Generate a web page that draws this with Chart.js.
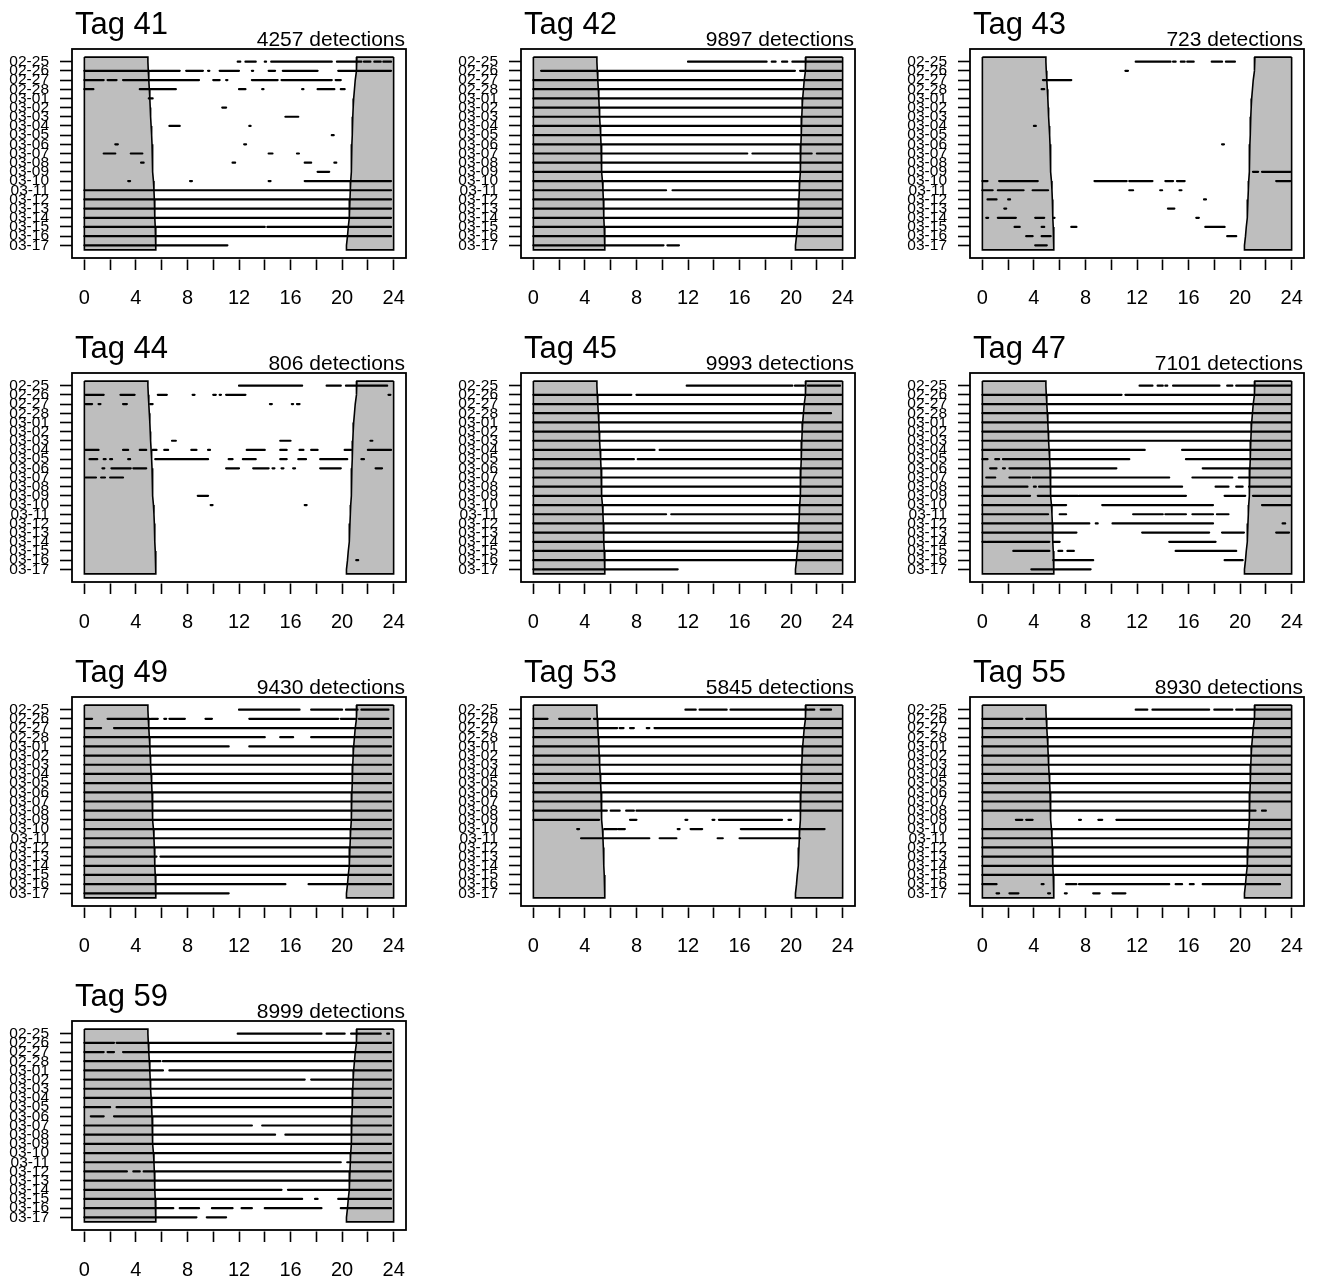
<!DOCTYPE html>
<html>
<head>
<meta charset="utf-8">
<title>Tag detections by hour of day</title>
<script src="https://cdn.jsdelivr.net/npm/chart.js@4.4.1/dist/chart.umd.min.js"></script>
<style>
  html, body { margin: 0; padding: 0; background: #ffffff; }
  #grid { position: relative; width: 1324px; height: 1284px; }
  .panel { position: absolute; width: 449px; height: 324px; }
  .panel canvas { display: block; }
</style>
</head>
<body>
<div id="grid"></div>
<script>
// Days on the vertical axis (top to bottom) and hour ticks on the horizontal axis
const dayLabels = ['02-25','02-26','02-27','02-28','03-01','03-02','03-03','03-04','03-05','03-06',
                   '03-07','03-08','03-09','03-10','03-11','03-12','03-13','03-14','03-15','03-16','03-17'];
const hourTicks = [0, 2, 4, 6, 8, 10, 12, 14, 16, 18, 20, 22, 24];

// Panels
const tagIds = [41, 42, 43, 44, 45, 47, 49, 53, 55, 59];
const detectionCounts = [4257, 9897, 723, 806, 9993, 7101, 9430, 5845, 8930, 8999];

// Sunrise / sunset hour for each day (night shading edges)
const sunrise = [4.93, 4.96, 5.00, 5.04, 5.08, 5.11, 5.14, 5.18, 5.22, 5.25, 5.27,
                 5.30, 5.32, 5.36, 5.40, 5.43, 5.45, 5.48, 5.50, 5.53, 5.55];
const sunset  = [21.15, 21.08, 21.02, 20.96, 20.90, 20.86, 20.83, 20.80, 20.78, 20.76, 20.74,
                 20.72, 20.70, 20.67, 20.64, 20.61, 20.58, 20.54, 20.48, 20.42, 20.34];

// Detection runs per day: [start hour, end hour]
const tag41 = [
  [[11.9,12.1],[12.5,13.3],[14.0,14.1],[14.5,19.2],[19.6,21.5],[21.7,22.2],[22.5,23.0],[23.2,23.8]],
  [[0,5.1],[5.2,7.4],[7.9,9.2],[9.6,9.7],[10.5,12.0],[13.0,13.1],[14.3,14.8],[15.4,18.1],[19.7,23.8]],
  [[0,1.5],[1.8,2.5],[3.0,8.9],[10.0,10.5],[11.0,11.1],[13.0,15.0],[15.3,19.2],[19.5,19.9]],
  [[0,0.7],[4.3,7.1],[12.0,12.5],[13.8,13.9],[16.9,17.0],[18.1,19.4],[19.9,20.2]],
  [[5.0,5.3]],
  [[10.7,11.0]],
  [[15.6,16.6]],
  [[6.6,7.4],[12.8,12.9]],
  [[19.2,19.35]],
  [[2.4,2.6],[12.4,12.55]],
  [[1.5,2.4],[3.6,4.5],[14.3,14.6],[16.5,16.65]],
  [[4.4,4.6],[11.5,11.7],[17.1,17.6],[19.4,19.55]],
  [[18.1,19.0]],
  [[3.4,3.55],[8.2,8.35],[14.3,14.45],[17.1,23.8]],
  [[0,23.8]],
  [[0,23.8]],
  [[0,23.8]],
  [[0,23.8]],
  [[0,14.0],[14.2,23.8]],
  [[0,23.8]],
  [[0,11.1]]
];
const tag42 = [
  [[12.0,18.1],[18.5,18.8],[19.3,19.7],[20.1,23.9]],
  [[0.6,20.3],[20.7,23.9]],
  [[0,23.9]],
  [[0,23.9]],
  [[0,23.9]],
  [[0,23.9]],
  [[0,23.9]],
  [[0,23.9]],
  [[0,23.9]],
  [[0,23.9]],
  [[0,16.6],[17.0,21.6],[22.0,23.9]],
  [[0,23.9]],
  [[0,23.9]],
  [[0,23.9]],
  [[0,10.3],[10.8,23.9]],
  [[0,23.9]],
  [[0,23.9]],
  [[0,23.9]],
  [[0,23.9]],
  [[0,23.9]],
  [[0,10.1],[10.4,11.3]]
];
const tag43 = [
  [[11.9,14.6],[14.8,15.0],[15.4,15.7],[15.9,16.4],[17.8,18.6],[18.9,19.6]],
  [[11.1,11.3]],
  [[4.7,6.9]],
  [[4.6,4.8]],
  [],
  [],
  [],
  [[4.0,4.15]],
  [],
  [[18.6,18.75]],
  [],
  [],
  [[21.0,21.4],[21.7,23.9]],
  [[0,0.4],[1.3,4.3],[8.7,11.2],[11.4,13.2],[14.2,14.8],[15.1,15.7],[22.8,23.9]],
  [[0,0.8],[1.2,3.2],[3.9,5.1],[11.4,11.7],[13.8,13.95],[15.3,15.45]],
  [[0.4,1.1],[2.0,2.15],[17.2,17.35]],
  [[1.7,1.85],[14.4,14.9]],
  [[0.3,0.45],[1.2,2.6],[4.1,4.8],[5.5,5.6],[16.6,16.8]],
  [[2.5,2.9],[4.6,4.8],[6.9,7.3],[17.3,18.8]],
  [[3.4,3.9],[4.6,5.3],[19.0,19.7]],
  [[4.1,5.0]]
];
const tag44 = [
  [[12.0,16.9],[18.8,19.9],[20.3,23.5]],
  [[0.1,1.5],[2.8,3.9],[5.7,6.4],[8.4,8.55],[10.0,10.2],[10.5,10.6],[11.0,12.5],[23.6,23.75]],
  [[0.1,0.6],[1.1,1.25],[3.0,3.3],[5.1,5.3],[14.4,14.55],[16.1,16.2],[16.5,16.7]],
  [],
  [],
  [],
  [[6.8,7.1],[15.2,16.0],[22.2,22.35]],
  [[0.1,1.1],[3.0,3.4],[4.3,4.8],[5.3,5.6],[6.2,6.5],[8.3,8.7],[9.6,9.75],[12.6,14.0],[15.2,15.7],[16.7,17.0],[17.6,18.1],[20.2,20.7],[22.0,23.8]],
  [[0.4,1.0],[1.5,1.65],[2.0,2.15],[3.4,3.55],[5.5,9.6],[11.2,11.5],[12.3,13.3],[15.2,15.7],[16.6,17.2],[18.3,20.4],[21.5,21.7]],
  [[1.4,1.55],[2.1,3.6],[3.8,4.8],[11.0,12.0],[13.1,14.3],[14.6,14.75],[15.3,15.45],[16.2,16.35],[18.3,19.9],[22.6,23.1]],
  [[0.1,0.9],[1.3,1.6],[2.0,3.0]],
  [],
  [[8.8,9.6]],
  [[9.8,9.95],[17.1,17.25]],
  [],
  [],
  [],
  [],
  [],
  [[21.1,21.25]],
  []
];
const tag45 = [
  [[11.9,20.1],[20.3,21.0],[21.3,23.8]],
  [[0,7.6],[8.0,23.9]],
  [[0,23.9]],
  [[0,23.1]],
  [[0,23.9]],
  [[0,23.9]],
  [[0,23.9]],
  [[0,9.4],[9.8,23.9]],
  [[0,7.8],[8.1,23.9]],
  [[0,23.9]],
  [[0,23.9]],
  [[0,23.9]],
  [[0,23.9]],
  [[0,23.9]],
  [[0,10.3],[10.7,23.9]],
  [[0,23.9]],
  [[0,23.9]],
  [[0,23.9]],
  [[0,23.9]],
  [[0,23.9]],
  [[0,11.2]]
];
const tag47 = [
  [[12.2,13.2],[13.6,14.0],[14.2,14.35],[14.8,18.4],[19.0,19.4],[19.7,23.9]],
  [[0,10.8],[11.1,23.9]],
  [[0,23.9]],
  [[0,23.9]],
  [[0,23.9]],
  [[0,23.9]],
  [[0,23.9]],
  [[0,12.6],[15.5,23.9]],
  [[0,0.4],[1.0,1.3],[1.6,11.4],[15.8,23.9]],
  [[0.6,1.1],[1.6,1.75],[2.1,10.4],[17.1,23.9]],
  [[0.3,1.0],[2.1,3.7],[3.9,14.5],[16.3,19.4],[19.9,23.9]],
  [[0,3.5],[4.0,4.15],[4.4,15.5],[18.1,19.1],[19.7,20.2],[20.7,23.9]],
  [[0,3.7],[4.3,7.4],[7.5,15.8],[18.8,20.4],[21.0,23.9]],
  [[0,6.5],[9.3,17.9],[21.7,23.9]],
  [[0,5.1],[6.0,6.5],[11.7,14.0],[14.2,15.8],[16.3,17.9],[18.2,19.1]],
  [[0,8.3],[8.8,8.95],[10.1,17.9],[23.3,23.5]],
  [[0,7.3],[12.4,17.6],[18.6,20.3],[22.8,23.8]],
  [[0,0.3],[0.4,5.2],[5.5,6.0],[14.5,18.1]],
  [[2.4,5.2],[5.9,6.2],[6.6,7.1],[15.0,19.7]],
  [[5.5,8.6],[18.8,20.2]],
  [[3.8,5.6],[5.7,8.4]]
];
const tag49 = [
  [[12.0,16.7],[17.6,20.0],[20.3,21.2],[21.5,23.6]],
  [[0.1,0.6],[1.8,5.1],[5.2,5.7],[6.2,6.35],[6.6,7.8],[9.4,9.9],[12.8,19.7],[19.9,21.1],[21.3,23.6]],
  [[0.1,1.3],[2.3,23.8]],
  [[0,14.0],[15.2,16.2],[17.6,23.8]],
  [[0,11.2],[12.8,23.8]],
  [[0,23.8]],
  [[0,23.8]],
  [[0,23.8]],
  [[0,23.8]],
  [[0,23.8]],
  [[0,23.8]],
  [[0,23.8]],
  [[0,23.8]],
  [[0,23.8]],
  [[0,23.8]],
  [[0,23.8]],
  [[0,5.6],[5.9,23.8]],
  [[0,23.8]],
  [[0,23.8]],
  [[0,15.6],[17.4,23.8]],
  [[0,11.2]]
];
const tag53 = [
  [[11.8,12.6],[12.9,15.0],[15.3,21.3],[21.4,21.8],[22.3,23.1]],
  [[0,1.1],[2.0,4.4],[4.7,23.9]],
  [[0,6.5],[6.7,7.0],[7.5,7.8],[8.8,9.0],[9.4,23.9]],
  [[0,23.9]],
  [[0,23.9]],
  [[0,23.9]],
  [[0,23.9]],
  [[0,23.9]],
  [[0,23.9]],
  [[0,23.9]],
  [[0,23.9]],
  [[0,5.7],[6.0,6.7],[7.2,7.8],[8.0,20.7],[20.8,23.9]],
  [[0,5.1],[7.5,8.0],[11.8,11.95],[13.9,14.05],[14.4,19.3],[19.8,20.0]],
  [[3.4,3.55],[5.5,6.5],[6.6,7.1],[11.2,11.35],[12.2,13.1],[16.1,22.6]],
  [[3.7,9.0],[9.8,11.1],[14.3,14.7],[16.0,20.7]],
  [],
  [],
  [],
  [],
  [],
  []
];
const tag55 = [
  [[11.9,12.8],[13.2,17.6],[18.0,19.4],[19.7,23.9]],
  [[0,3.1],[3.4,23.9]],
  [[0,23.9]],
  [[0,23.9]],
  [[0,23.9]],
  [[0,23.9]],
  [[0,23.9]],
  [[0,23.9]],
  [[0,23.9]],
  [[0,23.9]],
  [[0,23.9]],
  [[0,21.2],[21.7,22.0]],
  [[2.6,3.1],[3.4,3.9],[7.5,7.65],[9.0,9.3],[10.4,23.9]],
  [[0,23.9]],
  [[0,23.9]],
  [[0,23.9]],
  [[0,23.9]],
  [[0,23.9]],
  [[0,23.9]],
  [[0,1.1],[4.6,4.75],[6.5,7.3],[7.5,14.5],[15.0,15.5],[16.1,16.4],[17.1,23.1]],
  [[1.1,1.3],[2.1,2.8],[5.1,5.25],[6.4,6.55],[8.6,9.1],[10.1,11.1]]
];
const tag59 = [
  [[11.9,18.4],[18.8,20.2],[20.7,23.0],[23.5,23.65]],
  [[0,2.3],[2.5,23.8]],
  [[0,1.5],[1.8,2.3],[3.0,23.8]],
  [[0,5.9],[6.1,23.8]],
  [[0,6.1],[6.6,23.8]],
  [[0,17.1],[17.6,23.8]],
  [[0,23.8]],
  [[0,23.8]],
  [[0,2.0],[2.5,23.8]],
  [[0.5,1.5],[2.3,23.8]],
  [[0,13.0],[13.8,23.8]],
  [[0,14.8],[15.6,23.8]],
  [[0,23.8]],
  [[0,23.8]],
  [[0,19.9],[20.4,23.8]],
  [[0,3.3],[3.8,4.3],[4.6,23.8]],
  [[0,23.8]],
  [[0,15.3],[15.8,23.8]],
  [[0,16.9],[17.9,18.1],[19.7,23.8]],
  [[0,6.9],[7.4,8.9],[9.9,11.5],[12.2,13.0],[14.0,18.4],[19.9,23.8]],
  [[0,8.7],[9.5,11.0]]
];
const tagRuns = [tag41, tag42, tag43, tag44, tag45, tag47, tag49, tag53, tag55, tag59];

Chart.defaults.font.family = '"Liberation Sans", Arial, Helvetica, sans-serif';
Chart.defaults.color = '#000';

// Night shading: polygon from midnight to sunrise, and from sunset to midnight
function nightShape(edge, side) {
  const pts = [{x: side, y: 0.5}, {x: edge[0], y: 0.5}];
  edge.forEach((h, i) => pts.push({x: h, y: i + 1}));
  pts.push({x: edge[edge.length - 1], y: edge.length + 0.5});
  pts.push({x: side, y: edge.length + 0.5});
  pts.push({x: side, y: 0.5});
  return pts;
}

// One polyline per tag; a null y breaks the line between runs
function runPoints(days) {
  const pts = [];
  days.forEach((runs, i) => {
    runs.forEach(([s, e]) => {
      pts.push({x: s, y: i + 1}, {x: e, y: i + 1}, {x: e, y: null});
    });
  });
  return pts;
}

// Frame, tag title and detection count
const panelText = {
  id: 'panelText',
  afterDraw(chart, args, opts) {
    const {ctx, chartArea: a} = chart;
    ctx.save();
    ctx.strokeStyle = '#000';
    ctx.lineWidth = 1.8;
    ctx.strokeRect(a.left, a.top, a.right - a.left, a.bottom - a.top);
    ctx.fillStyle = '#000';
    ctx.textBaseline = 'alphabetic';
    ctx.textAlign = 'left';
    ctx.font = '31px "Liberation Sans", Arial, sans-serif';
    ctx.fillText(opts.title, a.left + 3, a.top - 15);
    ctx.textAlign = 'right';
    ctx.font = '21px "Liberation Sans", Arial, sans-serif';
    ctx.fillText(opts.subtitle, a.right - 1, a.top - 3);
    ctx.restore();
  }
};

const grid = document.getElementById('grid');
const leftNight = nightShape(sunrise, 0);
const rightNight = nightShape(sunset, 24);

tagIds.forEach((id, k) => {
  const col = k % 3, row = Math.floor(k / 3);
  const div = document.createElement('div');
  div.className = 'panel';
  div.style.left = (col * 449) + 'px';
  div.style.top = (row * 324) + 'px';
  const canvas = document.createElement('canvas');
  canvas.width = 449;
  canvas.height = 324;
  div.appendChild(canvas);
  grid.appendChild(div);

  new Chart(canvas, {
    type: 'scatter',
    data: {
      datasets: [
        {
          data: runPoints(tagRuns[k]),
          showLine: true,
          spanGaps: false,
          borderColor: '#000',
          borderWidth: 2.2,
          borderCapStyle: 'round',
          borderJoinStyle: 'round',
          pointRadius: 0,
          order: 0
        },
        {
          data: leftNight,
          showLine: true,
          fill: 'shape',
          backgroundColor: '#bebebe',
          borderColor: '#000',
          borderWidth: 1.6,
          pointRadius: 0,
          order: 1
        },
        {
          data: rightNight,
          showLine: true,
          fill: 'shape',
          backgroundColor: '#bebebe',
          borderColor: '#000',
          borderWidth: 1.6,
          pointRadius: 0,
          order: 1
        }
      ]
    },
    options: {
      responsive: false,
      animation: false,
      events: [],
      layout: { padding: { top: 49, right: 43, left: 0, bottom: 0 } },
      plugins: {
        legend: { display: false },
        tooltip: { enabled: false },
        panelText: { title: 'Tag ' + id, subtitle: detectionCounts[k] + ' detections' }
      },
      scales: {
        x: {
          type: 'linear',
          min: -0.96,
          max: 24.96,
          afterBuildTicks: s => { s.ticks = hourTicks.map(v => ({ value: v })); },
          afterFit: s => { s.height = 66; },
          ticks: {
            autoSkip: false,
            maxRotation: 0,
            padding: 16,
            font: { size: 20 },
            color: '#000',
            callback: v => (v % 4 === 0 ? String(v) : '')
          },
          grid: {
            drawOnChartArea: false,
            drawTicks: true,
            tickLength: 12,
            tickColor: '#000',
            tickWidth: 1.6,
            tickBorderDash: [0, 1.5, 10.5, 20]
          },
          border: { display: false }
        },
        y: {
          type: 'linear',
          reverse: true,
          min: -0.38,
          max: 22.38,
          afterBuildTicks: s => { s.ticks = dayLabels.map((_, i) => ({ value: i + 1 })); },
          afterFit: s => { s.width = 72; },
          ticks: {
            autoSkip: false,
            padding: 11,
            font: { size: 15.5 },
            color: '#000',
            callback: v => dayLabels[v - 1]
          },
          grid: {
            drawOnChartArea: false,
            drawTicks: true,
            tickLength: 12,
            tickColor: '#000',
            tickWidth: 1.6
          },
          border: { display: false }
        }
      }
    },
    plugins: [panelText]
  });
});
</script>
</body>
</html>
